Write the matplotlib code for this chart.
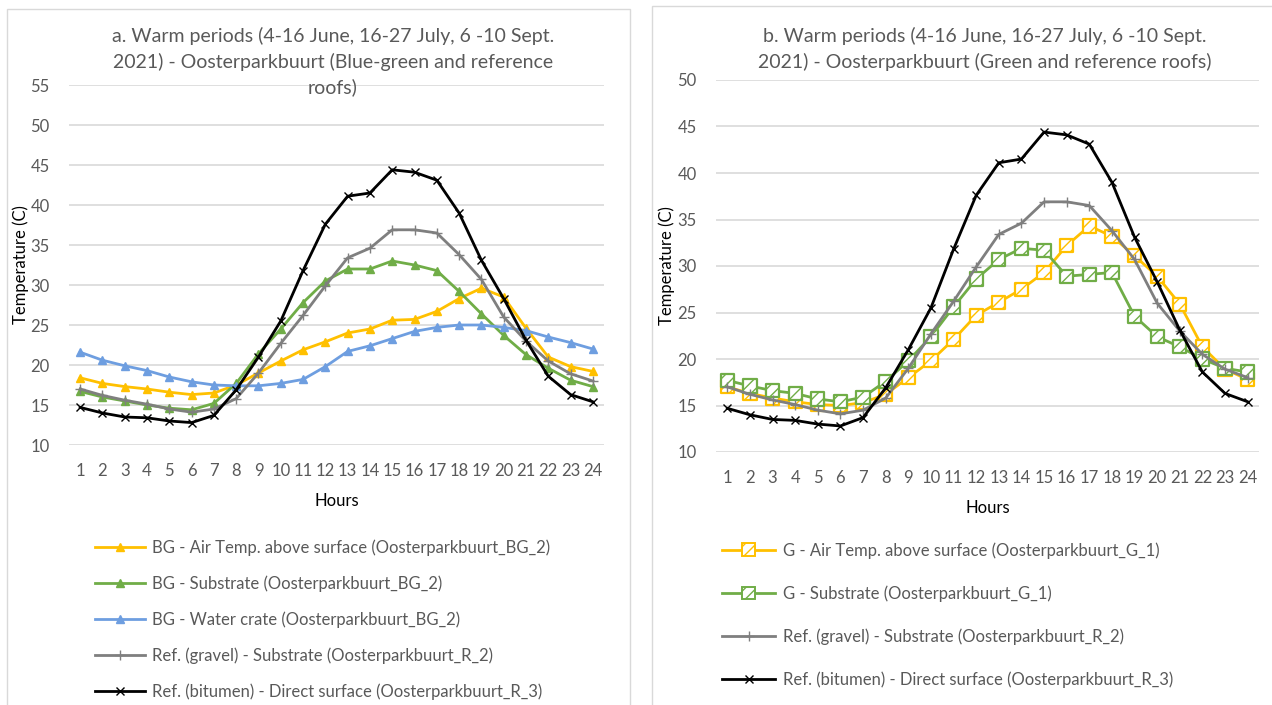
import matplotlib
matplotlib.use("Agg")
import matplotlib.pyplot as plt
from matplotlib.lines import Line2D
from matplotlib.patches import Rectangle
from matplotlib.legend_handler import HandlerBase

plt.rcParams['font.family'] = ['Lato', 'DejaVu Sans']
plt.rcParams['hatch.linewidth'] = 1.0

hours = list(range(1, 25))

# Panel a: blue-green roof and reference roofs (deg C)
bg_air = [18.4, 17.7, 17.3, 17.0, 16.6, 16.3, 16.5, 17.5, 19.0, 20.5, 21.9, 22.9,
          24.0, 24.5, 25.6, 25.7, 26.7, 28.3, 29.6, 28.5, 24.6, 21.0, 19.8, 19.2]
bg_substrate = [16.7, 16.0, 15.5, 15.0, 14.6, 14.4, 15.2, 17.7, 21.4, 24.5, 27.8, 30.5,
                32.0, 32.0, 33.0, 32.5, 31.8, 29.2, 26.4, 23.7, 21.3, 19.6, 18.1, 17.3]
bg_water = [21.6, 20.6, 19.9, 19.3, 18.5, 17.9, 17.5, 17.4, 17.4, 17.7, 18.2, 19.8,
            21.7, 22.4, 23.3, 24.2, 24.7, 25.0, 25.0, 24.7, 24.3, 23.5, 22.8, 22.0]
ref_gravel = [17.0, 16.2, 15.6, 15.1, 14.5, 14.1, 14.5, 15.8, 19.0, 22.7, 26.2, 29.9,
              33.4, 34.6, 36.9, 36.9, 36.5, 33.8, 30.7, 26.0, 23.0, 20.5, 18.9, 18.0]
ref_bitumen = [14.7, 14.0, 13.5, 13.4, 13.0, 12.8, 13.7, 16.9, 21.0, 25.5, 31.8, 37.6,
               41.1, 41.5, 44.4, 44.1, 43.1, 39.0, 33.1, 28.3, 23.1, 18.6, 16.3, 15.4]

# Panel b: green roof and reference roofs (deg C)
g_air = [17.0, 16.3, 15.8, 15.4, 15.1, 15.0, 15.3, 16.2, 18.0, 19.8, 22.1, 24.7,
         26.1, 27.5, 29.3, 32.2, 34.3, 33.2, 31.1, 28.9, 25.9, 21.3, 18.9, 17.8]
g_substrate = [17.7, 17.1, 16.6, 16.3, 15.7, 15.4, 15.9, 17.6, 19.8, 22.4, 25.6, 28.6,
               30.7, 31.9, 31.7, 28.9, 29.1, 29.3, 24.6, 22.4, 21.3, 20.0, 19.0, 18.6]

labels_a = ["BG - Air Temp. above surface (Oosterparkbuurt_BG_2)",
            "BG - Substrate (Oosterparkbuurt_BG_2)",
            "BG - Water crate (Oosterparkbuurt_BG_2)",
            "Ref. (gravel) - Substrate (Oosterparkbuurt_R_2)",
            "Ref. (bitumen) - Direct surface (Oosterparkbuurt_R_3)"]
labels_b = ["G - Air Temp. above surface (Oosterparkbuurt_G_1)",
            "G - Substrate (Oosterparkbuurt_G_1)",
            "Ref. (gravel) - Substrate (Oosterparkbuurt_R_2)",
            "Ref. (bitumen) - Direct surface (Oosterparkbuurt_R_3)"]

title_a = ("a. Warm periods (4-16 June, 16-27 July, 6 -10 Sept.\n"
           "2021) - Oosterparkbuurt (Blue-green and reference\nroofs)")
title_b = ("b. Warm periods (4-16 June, 16-27 July, 6 -10 Sept.\n"
           "2021) - Oosterparkbuurt (Green and reference roofs)")

YELLOW = '#FFC000'
GREEN = '#70AD47'
BLUE = '#6E9EE0'
GRAY = '#7F7F7F'
BLACK = '#000000'
TXT = '#595959'
GRID = '#D9D9D9'
LW = 2.0

W, H = 1272, 705
fig = plt.figure(figsize=(W / 100, H / 100), dpi=100)

# chart-area frames
fig.add_artist(Rectangle((7 / W, -0.05), (630 - 7) / W, 1 - 9 / H + 0.05,
                         transform=fig.transFigure, fill=False, edgecolor=GRID, lw=1))
fig.add_artist(Rectangle((652 / W, -0.05), (1290 - 652) / W, 1 - 6 / H + 0.05,
                         transform=fig.transFigure, fill=False, edgecolor=GRID, lw=1))


def style_axes(ax, ymax):
    ax.set_xlim(0.5, 24.5)
    ax.set_ylim(10, ymax)
    ax.set_yticks(range(10, ymax + 1, 5))
    ax.set_xticks(hours)
    ax.grid(axis='y', color=GRID, lw=1.2)
    ax.set_axisbelow(True)
    for s in ax.spines.values():
        s.set_visible(False)
    ax.tick_params(axis='y', length=0, pad=14, labelsize=12, labelcolor=TXT)
    ax.tick_params(axis='x', length=0, pad=13, labelsize=12, labelcolor=TXT)
    ax.set_xlabel("Hours", fontsize=12, color='black', labelpad=10)
    ax.set_ylabel("Temperature (C)", fontsize=12, color='black')
    ax.patch.set_alpha(0)


# ---- panel a ----
axa = fig.add_axes([69 / W, 1 - 445 / H, 535 / W, 360 / H])
style_axes(axa, 55)
axa.plot(hours, bg_air, color=YELLOW, lw=LW, marker='^', ms=6, label=labels_a[0], zorder=3)
axa.plot(hours, bg_substrate, color=GREEN, lw=LW, marker='^', ms=6, label=labels_a[1], zorder=4)
axa.plot(hours, bg_water, color=BLUE, lw=LW, marker='^', ms=6, label=labels_a[2], zorder=5)
axa.plot(hours, ref_gravel, color=GRAY, lw=LW, marker='+', ms=7, mew=1.0, label=labels_a[3], zorder=6)
axa.plot(hours, ref_bitumen, color=BLACK, lw=LW, marker='x', ms=6, mew=1.0, label=labels_a[4], zorder=7)
axa.yaxis.set_label_coords(-0.074, 0.5)
fig.text(333 / W, 1 - 27 / H, title_a, ha='center', va='top', fontsize=14,
         color=TXT, linespacing=1.5)

leg_a = axa.legend(loc='upper left', bbox_to_anchor=(95 / W, 1 - 539 / H),
                   bbox_transform=fig.transFigure, frameon=False, fontsize=12,
                   labelcolor=TXT, handlelength=3.0, handletextpad=0.45,
                   labelspacing=1.17, borderpad=0, borderaxespad=0)


# ---- panel b ----
class HatchedSquareHandler(HandlerBase):
    def create_artists(self, legend, orig_handle, xdescent, ydescent, width, height,
                       fontsize, trans):
        c = orig_handle.get_color()
        yc = height / 2 - ydescent
        line = Line2D([-xdescent, width - xdescent], [yc, yc], color=c, lw=LW)
        s = 9
        rect = Rectangle((width / 2 - xdescent - s / 2, yc - s / 2), s, s,
                         facecolor='white', edgecolor=c, hatch='///', lw=1.4)
        line.set_transform(trans)
        rect.set_transform(trans)
        return [line, rect]


axb = fig.add_axes([716 / W, 1 - 452 / H, 543 / W, 372 / H])
style_axes(axb, 50)
for i, (vals, col) in enumerate([(g_air, YELLOW), (g_substrate, GREEN)]):
    axb.plot(hours, vals, color=col, lw=LW, zorder=3 + 2 * i)
    axb.scatter(hours, vals, marker='s', s=90, facecolor='white', edgecolor=col,
                hatch='///', linewidths=1.6, zorder=4 + 2 * i)
axb.plot(hours, ref_gravel, color=GRAY, lw=LW, marker='+', ms=7, mew=1.0, zorder=7)
axb.plot(hours, ref_bitumen, color=BLACK, lw=LW, marker='x', ms=6, mew=1.0, zorder=8)
axb.yaxis.set_label_coords(-0.0755, 0.5)
fig.text(985 / W, 1 - 27 / H, title_b, ha='center', va='top', fontsize=14,
         color=TXT, linespacing=1.5)

handles_b = [Line2D([], [], color=YELLOW), Line2D([], [], color=GREEN),
             Line2D([], [], color=GRAY, lw=LW, marker='+', ms=7, mew=1.0),
             Line2D([], [], color=BLACK, lw=LW, marker='x', ms=6, mew=1.0)]
leg_b = axb.legend(handles_b, labels_b, loc='upper left',
                   bbox_to_anchor=(722 / W, 1 - 542 / H),
                   bbox_transform=fig.transFigure, frameon=False, fontsize=12,
                   labelcolor=TXT, handlelength=3.2, handletextpad=0.45,
                   labelspacing=1.6, borderpad=0, borderaxespad=0,
                   handler_map={handles_b[0]: HatchedSquareHandler(),
                                handles_b[1]: HatchedSquareHandler()})

fig.savefig("out.png", dpi=100)
